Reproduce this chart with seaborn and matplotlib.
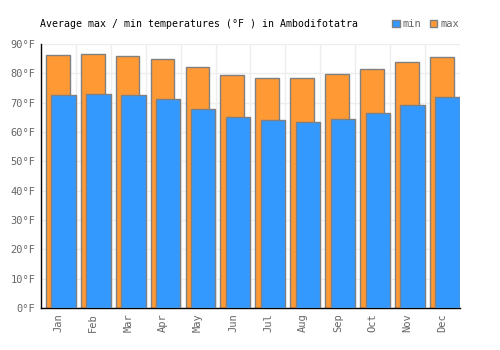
import numpy as np
import matplotlib
matplotlib.use("Agg")
import matplotlib.pyplot as plt
from matplotlib.patches import Patch
import seaborn as sns

months = ["Jan", "Feb", "Mar", "Apr", "May", "Jun", "Jul", "Aug", "Sep", "Oct", "Nov", "Dec"]
temp_max = [86.2, 86.5, 85.9, 84.8, 82.1, 79.3, 78.3, 78.3, 79.7, 81.4, 83.8, 85.5]
temp_min = [72.5, 72.9, 72.5, 71.2, 67.7, 65.0, 64.0, 63.6, 64.3, 66.4, 69.1, 71.8]
y_ticks = [0, 10, 20, 30, 40, 50, 60, 70, 80, 90]

blue = "#3399ff"
orange = "#ff9933"
edge = "#808080"
grey = "#666666"

sns.set_style("white")
plt.rcParams["font.family"] = ["DejaVu Sans Mono"]

fig = plt.figure(figsize=(5, 3.5), dpi=100)
ax = fig.add_axes([0.082, 0.12, 0.838, 0.754])

idx = np.arange(len(months))
sns.barplot(x=idx - 0.02, y=temp_max, native_scale=True, width=0.68,
            color=orange, edgecolor=edge, linewidth=1, saturation=1, ax=ax, zorder=2)
sns.barplot(x=idx + 0.145, y=temp_min, native_scale=True, width=0.70,
            color=blue, edgecolor=edge, linewidth=1, saturation=1, ax=ax, zorder=3)

ax.set_xlim(-0.5, len(months) - 0.5)
ax.set_ylim(0, 90)
ax.set_xticks(idx)
ax.set_xticklabels(months, rotation=90, color=grey, fontsize=7.5)
ax.set_xticks(idx + 0.5, minor=True)
ax.set_yticks(y_ticks)
ax.set_yticklabels([f"{t}°F" for t in y_ticks], color=grey, fontsize=7.5)
ax.tick_params(axis="both", which="both", length=0, pad=4)
ax.grid(True, axis="y", color="#eeeeee", linewidth=1, zorder=0)
ax.grid(True, axis="x", which="minor", color="#eeeeee", linewidth=1, zorder=0)
ax.set_axisbelow(True)
ax.set_xlabel("")
ax.set_ylabel("")
for s in ["top", "right"]:
    ax.spines[s].set_visible(False)
for s in ["left", "bottom"]:
    ax.spines[s].set_color("black")
    ax.spines[s].set_linewidth(1)

fig.text(0.08, 0.932, "Average max / min temperatures (°F ) in Ambodifotatra",
         fontsize=7.1, color="black", va="center", ha="left")

handles = [Patch(facecolor=blue, edgecolor=edge, label="min"),
           Patch(facecolor=orange, edgecolor=edge, label="max")]
fig.legend(handles=handles, loc="center left", bbox_to_anchor=(0.774, 0.932), ncol=2,
           frameon=False, fontsize=7.5, handlelength=0.7, handleheight=0.7,
           handletextpad=0.3, columnspacing=0.8, labelcolor=grey, borderpad=0)

fig.savefig("out.png", dpi=100)
